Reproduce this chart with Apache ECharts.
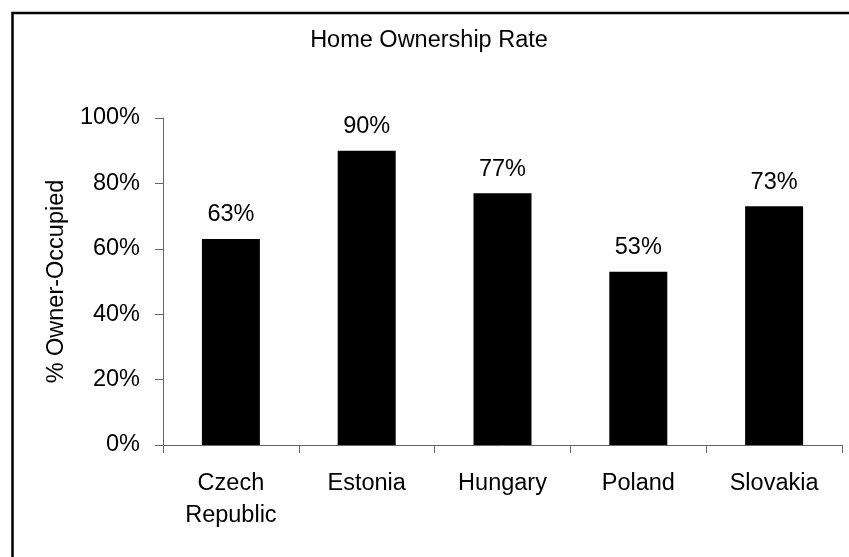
<!DOCTYPE html>
<html>
<head>
<meta charset="utf-8">
<script src="https://cdn.jsdelivr.net/npm/echarts@6/dist/echarts.min.js"></script>
<style>
html,body{margin:0;padding:0;background:#fff;}
#chart{width:849px;height:557px;}
</style>
</head>
<body>
<div id="chart"></div>
<script>
const titleText = "Home Ownership Rate";
const yAxisName = "% Owner-Occupied";
const categories = ["Czech\nRepublic", "Estonia", "Hungary", "Poland", "Slovakia"];
const ownershipRate = [63, 90, 77, 53, 73];
const yTicks = [0, 20, 40, 60, 80, 100];

const FONT = "'Liberation Sans', Arial, sans-serif";
const FS = 23.5;
const chart = echarts.init(document.getElementById('chart'), null, {renderer: 'canvas'});
chart.setOption({
  animation: false,
  backgroundColor: '#fff',
  textStyle: {fontFamily: FONT, color: '#000'},
  graphic: [{
    type: 'rect', left: 10, top: 10.5,
    shape: {x: 0, y: 0, width: 900, height: 600},
    style: {fill: 'none', stroke: '#000', lineWidth: 2.5},
    silent: true
  }],
  title: {
    text: titleText, left: 429, top: 29, padding: 0, textAlign: 'center',
    textStyle: {fontFamily: FONT, fontSize: FS, fontWeight: 'normal', color: '#000'}
  },
  grid: {left: 163, top: 118, right: 7, bottom: 112, containLabel: false},
  xAxis: {
    type: 'category', data: categories,
    axisLine: {lineStyle: {color: '#666', width: 1}},
    axisTick: {show: true, length: 8, alignWithLabel: false, lineStyle: {color: '#666'}},
    axisLabel: {fontFamily: FONT, fontSize: FS, color: '#000', margin: 23, lineHeight: 32, interval: 0}
  },
  yAxis: {
    type: 'value', min: yTicks[0], max: yTicks[yTicks.length - 1], interval: 20,
    name: yAxisName, nameLocation: 'middle', nameGap: 94, nameRotate: 90,
    nameTextStyle: {fontFamily: FONT, fontSize: FS, color: '#000'},
    axisLine: {show: true, lineStyle: {color: '#666', width: 1}},
    axisTick: {show: true, length: 8, lineStyle: {color: '#666'}},
    splitLine: {show: false},
    axisLabel: {fontFamily: FONT, fontSize: FS, color: '#000', margin: 23, padding: [4, 0, 0, 0], formatter: '{value}%'}
  },
  series: [{
    type: 'bar', data: ownershipRate, barWidth: 58,
    itemStyle: {color: '#000'},
    label: {show: true, position: 'top', distance: 12, formatter: '{c}%',
      fontFamily: FONT, fontSize: FS, color: '#000'}
  }]
});
</script>
</body>
</html>
